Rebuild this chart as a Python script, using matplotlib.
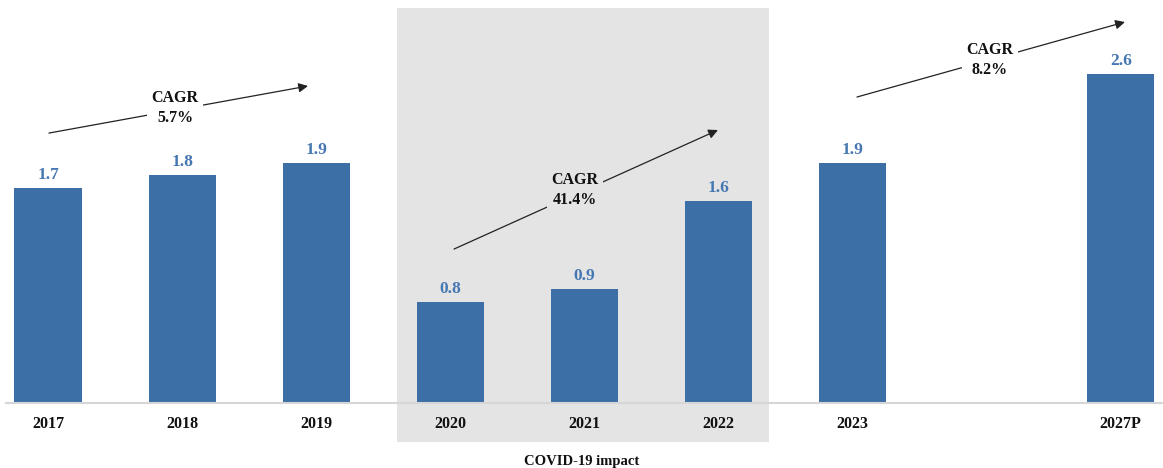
import numpy as np
import matplotlib.pyplot as plt
from matplotlib.patches import Rectangle

years = ['2017', '2018', '2019', '2020', '2021', '2022', '2023', '2027P']
positions = [0, 1, 2, 3, 4, 5, 6, 8]
values = [1.7, 1.8, 1.9, 0.8, 0.9, 1.6, 1.9, 2.6]

cagr_labels = ['CAGR\n5.7%', 'CAGR\n41.4%', 'CAGR\n8.2%']
# arrow start, end and label centre in data units
cagr_arrows = [((0.007, 2.134), (1.939, 2.506), (0.947, 2.332)),
               ((3.028, 1.217), (4.996, 2.158), (3.930, 1.684)),
               ((6.033, 2.419), (8.031, 3.012), (7.025, 2.711))]

bar_color = '#3b6fa5'
label_color = '#4677b3'
shade = '#e4e4e4'
serif = ['Liberation Serif', 'DejaVu Serif']

fig = plt.figure(figsize=(11.63, 4.68), dpi=100)
ax = fig.add_axes([0, 0, 1, 1])
ax.set_xlim(-0.358, 8.315)
ax.set_ylim(-0.514, 3.186)
ax.axis('off')

# covid shading
ax.add_patch(Rectangle((2.60, -0.308), 2.78, 3.428, facecolor=shade,
                       edgecolor='none', zorder=0))

ax.bar(positions, values, width=0.5, color=bar_color, zorder=2)
ax.axhline(0, xmin=0.005, xmax=1, color='#d6d6d6', lw=1.5, zorder=3)

for x, v, yr in zip(positions, values, years):
    ax.text(x, v + 0.04, f'{v:.1f}', ha='center', va='bottom', color=label_color,
            fontsize=12.5, fontweight='bold', family=serif, zorder=4)
    ax.text(x, -0.168, yr, ha='center', va='center', color='#111111',
            fontsize=11.5, fontweight='bold', family=serif, zorder=4)

ax.text(3.98, -0.459, 'COVID-19 impact', ha='center', va='center', color='#111111',
        fontsize=10.5, fontweight='bold', family=serif)

for (start, end, mid), lab, bg in zip(cagr_arrows, cagr_labels, ['white', shade, 'white']):
    ax.annotate('', xy=end, xytext=start,
                arrowprops=dict(arrowstyle='-|>', color='#222222', lw=0.9,
                                mutation_scale=14, shrinkA=0, shrinkB=0), zorder=3)
    ax.text(mid[0], mid[1], lab, ha='center', va='center', color='#111111',
            fontsize=11.5, fontweight='bold', family=serif, linespacing=1.3,
            bbox=dict(facecolor=bg, edgecolor='none', pad=3), zorder=4)

fig.savefig('out.png', dpi=100)
